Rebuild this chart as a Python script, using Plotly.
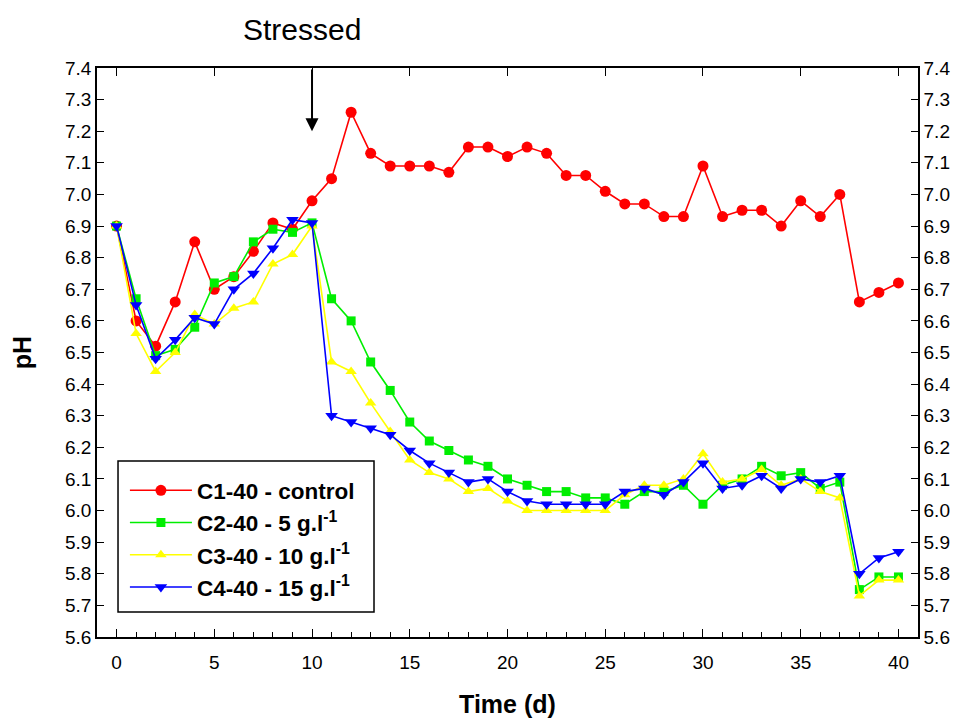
import plotly.graph_objects as go

days = list(range(0, 41))

c1_control = [6.90, 6.60, 6.52, 6.66, 6.85, 6.70, 6.74, 6.82, 6.91, 6.89,
              6.98, 7.05, 7.26, 7.13, 7.09, 7.09, 7.09, 7.07, 7.15, 7.15,
              7.12, 7.15, 7.13, 7.06, 7.06, 7.01, 6.97, 6.97, 6.93, 6.93,
              7.09, 6.93, 6.95, 6.95, 6.90, 6.98, 6.93, 7.00, 6.66, 6.69, 6.72]
c2_5g = [6.90, 6.67, 6.49, 6.51, 6.58, 6.72, 6.74, 6.85, 6.89, 6.88,
         6.91, 6.67, 6.60, 6.47, 6.38, 6.28, 6.22, 6.19, 6.16, 6.14,
         6.10, 6.08, 6.06, 6.06, 6.04, 6.04, 6.02, 6.06, 6.06, 6.08,
         6.02, 6.08, 6.10, 6.14, 6.11, 6.12, 6.07, 6.09, 5.75, 5.79, 5.79]
c3_10g = [6.90, 6.56, 6.44, 6.50, 6.62, 6.59, 6.64, 6.66, 6.78, 6.81,
          6.90, 6.47, 6.44, 6.34, 6.25, 6.16, 6.12, 6.10, 6.06, 6.07,
          6.03, 6.00, 6.00, 6.00, 6.00, 6.00, 6.05, 6.08, 6.08, 6.10,
          6.18, 6.09, 6.10, 6.13, 6.08, 6.10, 6.06, 6.04, 5.73, 5.78, 5.78]
c4_15g = [6.90, 6.65, 6.48, 6.54, 6.61, 6.59, 6.70, 6.75, 6.83, 6.92,
          6.91, 6.30, 6.28, 6.26, 6.24, 6.19, 6.15, 6.12, 6.09, 6.10,
          6.06, 6.03, 6.02, 6.02, 6.02, 6.02, 6.06, 6.07, 6.05, 6.09,
          6.15, 6.07, 6.08, 6.11, 6.07, 6.10, 6.09, 6.11, 5.80, 5.85, 5.87]

series_names = ["C1-40 - control", "C2-40 - 5 g.l<sup>-1</sup>",
                "C3-40 - 10 g.l<sup>-1</sup>", "C4-40 - 15 g.l<sup>-1</sup>"]
series_values = [c1_control, c2_5g, c3_10g, c4_15g]
colors = ["#FF0000", "#00EE00", "#FFFF00", "#0000FF"]
symbols = ["circle", "square", "triangle-up", "triangle-down"]
sizes = [11, 9, 10, 11]

x_ticks = [0, 5, 10, 15, 20, 25, 30, 35, 40]
y_ticks = [round(5.6 + 0.1 * i, 1) for i in range(19)]
y_labels = [f"{v:.1f}" for v in y_ticks]

fig = go.Figure()
for name, vals, col, sym, sz in zip(series_names, series_values, colors, symbols, sizes):
    fig.add_trace(go.Scatter(
        x=days, y=vals, name=name, mode="lines+markers",
        line=dict(color=col, width=1.6),
        marker=dict(color=col, symbol=sym, size=sz, line=dict(width=0)),
    ))

# invisible trace to anchor the mirrored axes
fig.add_trace(go.Scatter(x=days, y=c1_control, xaxis="x2", yaxis="y2",
                         mode="markers", marker=dict(opacity=0), showlegend=False,
                         hoverinfo="skip"))

font_fam = "Liberation Sans, Arial, sans-serif"
tick_size = 19

fig.update_layout(
    width=949, height=710,
    paper_bgcolor="white", plot_bgcolor="white",
    margin=dict(l=89, r=39, t=60, b=81, autoexpand=False),
    font=dict(family=font_fam, size=tick_size, color="black"),
    showlegend=True,
    legend=dict(
        x=0.034, y=0.295, xanchor="left", yanchor="top",
        bgcolor="rgba(0,0,0,0)", borderwidth=0,
        font=dict(family=font_fam, size=22.5, color="black", weight="bold"),
        itemwidth=62, tracegroupgap=0,
    ),
    xaxis=dict(
        range=[-1, 41], tickvals=x_ticks, ticktext=[str(v) for v in x_ticks],
        ticks="inside", ticklen=8, tickwidth=1.2, tickcolor="black",
        minor=dict(dtick=1, tick0=0, ticks="inside", ticklen=5, tickwidth=1.2, tickcolor="black"),
        showline=True, linecolor="black", linewidth=1.5, mirror=False,
        showgrid=False, zeroline=False, automargin=False,
        ticklabelstandoff=7,
        title=dict(text="<b>Time (d)</b>", font=dict(size=25), standoff=24),
        tickfont=dict(size=tick_size),
    ),
    xaxis2=dict(
        overlaying="x", side="top", matches="x",
        tickvals=x_ticks, ticks="inside", ticklen=8, tickwidth=1.2, tickcolor="black",
        showticklabels=False, showline=True, linecolor="black", linewidth=1.5,
        showgrid=False, zeroline=False, automargin=False,
    ),
    yaxis=dict(
        range=[5.6, 7.4], tickvals=y_ticks, ticktext=y_labels,
        ticks="inside", ticklen=7, tickwidth=1.2, tickcolor="black",
        showline=True, linecolor="black", linewidth=1.5,
        showgrid=False, zeroline=False, automargin=False,
        title=dict(text="<b>pH</b>", font=dict(size=25), standoff=43),
        tickfont=dict(size=tick_size),
    ),
    yaxis2=dict(
        overlaying="y", side="right", matches="y",
        tickvals=y_ticks, ticktext=y_labels,
        ticks="inside", ticklen=7, tickwidth=1.2, tickcolor="black",
        showline=True, linecolor="black", linewidth=1.5,
        showgrid=False, zeroline=False, automargin=False, tickfont=dict(size=tick_size),
    ),
)

# legend frame (white box covering data, as in the original)
fig.add_shape(type="rect", xref="paper", yref="paper",
              x0=0.0256, x1=0.3374, y0=0.0439, y1=0.3093,
              line=dict(color="black", width=1.5), fillcolor="white", layer="above")

fig.add_annotation(
    x=10, y=7.2, ax=10, ay=7.4, xref="x", yref="y", axref="x", ayref="y",
    showarrow=True, arrowhead=2, arrowsize=1.3, arrowwidth=2, arrowcolor="black", text="",
)
fig.add_annotation(
    x=9.47, y=1.0668, xref="x", yref="paper", yanchor="middle", text="Stressed", showarrow=False,
    font=dict(family=font_fam, size=30, color="black"),
)

fig.write_html("out.html")
